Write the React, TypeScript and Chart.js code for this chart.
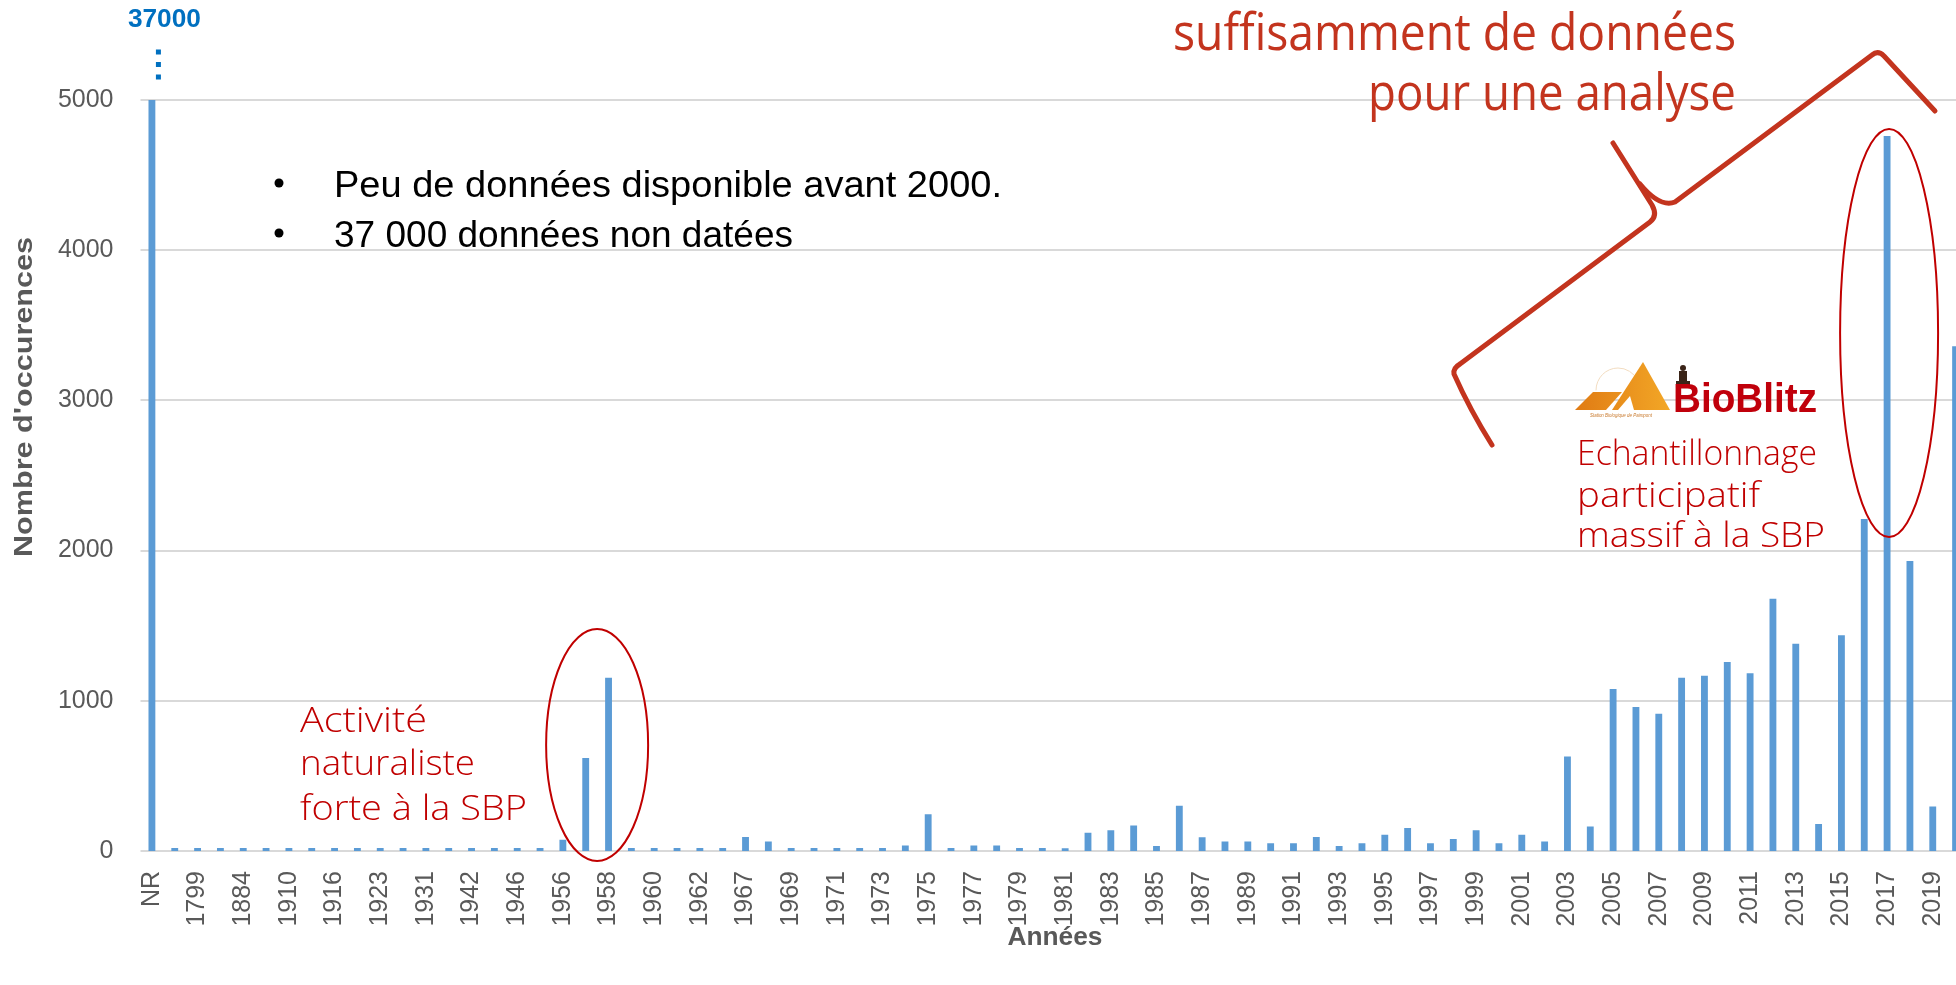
import React, { useEffect, useRef } from 'react';
import { Chart, registerables } from 'chart.js';

Chart.register(...registerables);

// Categories (odd-index labels are hidden in the original, every other label is shown)
const categories: string[] = [
  'NR', '1780', '1799', '1850', '1884', '1900', '1910', '1913', '1916', '1920',
  '1923', '1927', '1931', '1936', '1942', '1944', '1946', '1950', '1956', '1957',
  '1958', '1959', '1960', '1961', '1962', '1965', '1967', '1968', '1969', '1970',
  '1971', '1972', '1973', '1974', '1975', '1976', '1977', '1978', '1979', '1980',
  '1981', '1982', '1983', '1984', '1985', '1986', '1987', '1988', '1989', '1990',
  '1991', '1992', '1993', '1994', '1995', '1996', '1997', '1998', '1999', '2000',
  '2001', '2002', '2003', '2004', '2005', '2006', '2007', '2008', '2009', '2010',
  '2011', '2012', '2013', '2014', '2015', '2016', '2017', '2018', '2019', '2020',
];

const occurrences: number[] = [
  37000, 20, 20, 20, 20, 20, 20, 20, 20, 20,
  20, 20, 20, 20, 20, 20, 20, 20, 75, 620,
  1153, 20, 20, 20, 20, 20, 93, 64, 20, 20,
  20, 20, 20, 36, 244, 20, 36, 36, 20, 20,
  18, 122, 138, 169, 33, 302, 91, 64, 64, 51,
  51, 93, 33, 51, 109, 153, 51, 80, 138, 51,
  109, 64, 629, 163, 1078, 958, 913, 1154, 1167, 1259,
  1183, 1679, 1379, 179, 1437, 2210, 4760, 1930, 297, 3360,
];

const yMin = 0;
const yMax = 5000;
const yStep = 1000;

const yTitle = "Nombre d'occurences";
const xTitle = 'Années';
const undatedLabel = '37000';
const bullets = ['Peu de données disponible avant 2000.', '37 000 données non datées'];
const noteTop = ['suffisamment de données', 'pour une analyse'];
const note1958 = ['Activité', 'naturaliste', 'forte à la SBP'];
const noteBioBlitz = ['Echantillonnage', 'participatif', 'massif à la SBP'];

const BAR = '#5b9bd5';
const AXIS_TXT = '#595959';
const GRID = '#d9d9d9';
const RED = '#c00000';
const BRACE = '#c3341e';
const BLUE = '#0070c0';
const SANS = "'Liberation Sans', Arial, sans-serif";
const HAND = "'Open Sans', 'Noto Sans', sans-serif";

function fitText(
  ctx: CanvasRenderingContext2D, text: string, x: number, y: number, width: number,
  font: string, color: string, align: 'left' | 'center' | 'right' = 'left',
  baseline: CanvasTextBaseline = 'alphabetic'
) {
  ctx.save();
  ctx.font = font;
  ctx.fillStyle = color;
  ctx.textBaseline = baseline;
  ctx.textAlign = 'left';
  const w = ctx.measureText(text).width;
  const sx = width / w;
  ctx.translate(x, y);
  ctx.scale(sx, 1);
  const off = align === 'center' ? -w / 2 : align === 'right' ? -w : 0;
  ctx.fillText(text, off, 0);
  ctx.restore();
}

const gridPlugin = {
  id: 'customGrid',
  beforeDatasetsDraw(chart: any) {
    const { ctx, chartArea, scales } = chart;
    const y = scales.y;
    ctx.save();
    ctx.strokeStyle = GRID;
    ctx.lineWidth = 2;
    y.ticks.forEach((t: any) => {
      const py = Math.round(y.getPixelForValue(t.value));
      ctx.beginPath();
      ctx.moveTo(chartArea.left, py);
      ctx.lineTo(chart.width, py);
      ctx.stroke();
    });
    ctx.restore();
  },
};

const annotPlugin = {
  id: 'annotations',
  afterDraw(chart: any) {
    const { ctx } = chart;
    const x = chart.scales.x;
    ctx.save();

    // Axis titles
    ctx.save();
    ctx.translate(25, 397);
    ctx.rotate(-Math.PI / 2);
    fitText(ctx, yTitle, 0, 0, 320, `bold 25px ${SANS}`, AXIS_TXT, 'center', 'middle');
    ctx.restore();
    fitText(ctx, xTitle, 1055, 938, 95, `bold 26px ${SANS}`, AXIS_TXT, 'center', 'middle');

    // Undated value above NR bar
    const nrX = x.getPixelForValue(0);
    fitText(ctx, undatedLabel, nrX + 12.5, 27, 73, `bold 26px ${SANS}`, BLUE, 'center');
    ctx.fillStyle = BLUE;
    [52, 64.5, 77].forEach((py) => ctx.fillRect(nrX + 4, py - 2.5, 5, 5));

    // Bullet text
    ctx.fillStyle = '#000';
    [183, 233].forEach((py) => {
      ctx.beginPath();
      ctx.arc(279, py, 4.5, 0, Math.PI * 2);
      ctx.fill();
    });
    fitText(ctx, bullets[0], 334, 197, 668, `37px ${SANS}`, '#000');
    fitText(ctx, bullets[1], 334, 247, 459, `37px ${SANS}`, '#000');

    // Ellipse around 1957-1958
    ctx.strokeStyle = RED;
    ctx.lineWidth = 2;
    const e1x = (x.getPixelForValue(19) + x.getPixelForValue(20)) / 2;
    ctx.beginPath();
    ctx.ellipse(e1x, 745, 51, 116, 0, 0, Math.PI * 2);
    ctx.stroke();
    // Ellipse around 2017
    const e2x = x.getPixelForValue(76) + 2;
    ctx.beginPath();
    ctx.ellipse(e2x, 333, 49, 204, 0, 0, Math.PI * 2);
    ctx.stroke();

    // Red notes
    fitText(ctx, note1958[0], 300, 732, 127, `300 35px ${HAND}`, RED);
    fitText(ctx, note1958[1], 300, 775, 175, `300 35px ${HAND}`, RED);
    fitText(ctx, note1958[2], 300, 820, 227, `300 35px ${HAND}`, RED);

    fitText(ctx, noteBioBlitz[0], 1577, 465, 240, `300 35px ${HAND}`, RED);
    fitText(ctx, noteBioBlitz[1], 1577, 507, 183, `300 35px ${HAND}`, RED);
    fitText(ctx, noteBioBlitz[2], 1577, 547, 248, `300 35px ${HAND}`, RED);

    // Top note
    fitText(ctx, noteTop[0], 1173, 50, 563, `400 52px ${HAND}`, BRACE);
    fitText(ctx, noteTop[1], 1368, 110, 368, `400 52px ${HAND}`, BRACE);

    // Curly brace
    ctx.strokeStyle = BRACE;
    ctx.lineWidth = 5;
    ctx.lineCap = 'round';
    ctx.lineJoin = 'round';
    ctx.beginPath();
    ctx.moveTo(1492, 445);
    ctx.quadraticCurveTo(1470, 410, 1454, 374);
    ctx.quadraticCurveTo(1453, 368, 1460, 364);
    ctx.lineTo(1650, 222);
    ctx.quadraticCurveTo(1658, 216, 1652, 205);
    ctx.lineTo(1613, 143);
    ctx.stroke();
    ctx.beginPath();
    ctx.moveTo(1640, 184);
    ctx.quadraticCurveTo(1660, 208, 1675, 202);
    ctx.lineTo(1872, 55);
    ctx.quadraticCurveTo(1878, 50, 1884, 56);
    ctx.lineTo(1935, 111);
    ctx.stroke();

    // BioBlitz logo (simplified)
    ctx.strokeStyle = '#f2dcc0';
    ctx.lineWidth = 1;
    ctx.beginPath();
    ctx.arc(1618, 390, 22, Math.PI * 1.0, Math.PI * 1.85);
    ctx.stroke();
    const grad = ctx.createLinearGradient(1575, 0, 1668, 0);
    grad.addColorStop(0, '#e07b14');
    grad.addColorStop(1, '#f2a626');
    ctx.fillStyle = grad;
    ctx.beginPath();
    ctx.moveTo(1575, 410);
    ctx.lineTo(1593, 392);
    ctx.lineTo(1622, 392);
    ctx.lineTo(1606, 410);
    ctx.closePath();
    ctx.fill();
    ctx.beginPath();
    ctx.moveTo(1612, 410);
    ctx.lineTo(1643, 362);
    ctx.lineTo(1670, 410);
    ctx.closePath();
    ctx.fill();
    ctx.fillStyle = '#fff';
    ctx.beginPath();
    ctx.moveTo(1618, 410);
    ctx.lineTo(1630, 396);
    ctx.lineTo(1634, 410);
    ctx.closePath();
    ctx.fill();
    ctx.fillStyle = '#3a2418';
    ctx.beginPath();
    ctx.arc(1683, 368, 3, 0, Math.PI * 2);
    ctx.fill();
    ctx.fillRect(1679, 371, 8, 12);
    ctx.fillRect(1676, 381, 14, 4);
    fitText(ctx, 'BioBlitz', 1673, 412, 144, `bold 40px ${SANS}`, '#c0000b');
    fitText(ctx, 'Station Biologique de Paimpont', 1590, 417, 62, `italic 6px ${SANS}`, '#c8782a');

    ctx.restore();
  },
};

export default function App() {
  const ref = useRef<HTMLCanvasElement>(null);
  useEffect(() => {
    const chart = new Chart(ref.current as HTMLCanvasElement, {
      type: 'bar',
      data: {
        labels: categories,
        datasets: [
          {
            data: occurrences,
            backgroundColor: BAR,
            barPercentage: 0.3,
            categoryPercentage: 1,
          },
        ],
      },
      options: {
        responsive: false,
        animation: false,
        layout: { padding: { left: 0, top: 100, right: 23, bottom: 0 } },
        plugins: { legend: { display: false }, tooltip: { enabled: false } },
        scales: {
          x: {
            grid: { display: false, drawTicks: false },
            border: { display: false },
            ticks: {
              autoSkip: false,
              maxRotation: 90,
              minRotation: 90,
              padding: 20,
              color: AXIS_TXT,
              font: { family: SANS, size: 25 },
              callback: (_v: any, i: number) => (i % 2 === 0 ? categories[i] : ''),
            },
            afterFit: (s: any) => {
              s.height = 134;
              s.paddingLeft = 0;
              s.paddingRight = 0;
            },
          },
          y: {
            min: yMin,
            max: yMax,
            grid: { display: false, drawTicks: false },
            border: { display: false },
            ticks: {
              stepSize: yStep,
              padding: 27,
              color: AXIS_TXT,
              font: { family: SANS, size: 25 },
              callback: (v: any) => String(v),
            },
            afterFit: (s: any) => {
              s.width = 140.5;
              s.paddingTop = 0;
              s.paddingBottom = 0;
            },
          },
        },
      } as any,
      plugins: [gridPlugin, annotPlugin],
    });
    return () => chart.destroy();
  }, []);
  return (
    <div
      style={{
        position: 'fixed',
        left: 0,
        top: 0,
        width: 1956,
        height: 985,
        overflow: 'hidden',
        background: '#fff',
      }}
    >
      <canvas ref={ref} width={1990} height={985} style={{ display: 'block' }} />
    </div>
  );
}
